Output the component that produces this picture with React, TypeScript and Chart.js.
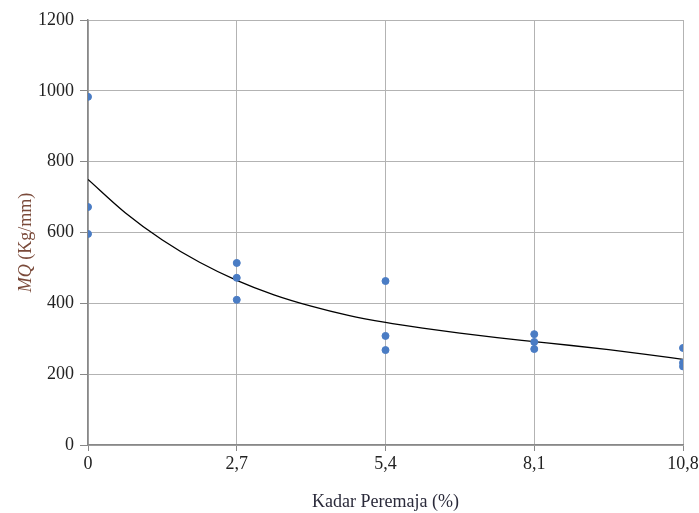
import React, { useEffect, useRef } from "react";
import { Chart, registerables } from "chart.js";

Chart.register(...registerables);

const xTicks = [0, 2.7, 5.4, 8.1, 10.8];
const yTicks = [0, 200, 400, 600, 800, 1000, 1200];

const pointX = [0, 0, 0, 2.7, 2.7, 2.7, 5.4, 5.4, 5.4, 8.1, 8.1, 8.1, 10.8, 10.8, 10.8];
const pointY = [983, 672, 596, 514, 472, 410, 463, 308, 268, 313, 291, 271, 274, 232, 222];

const trendX = [0, 0.675, 1.35, 2.025, 2.7, 3.375, 4.05, 4.725, 5.4, 6.075, 6.75, 7.425, 8.1, 8.775, 9.45, 10.125, 10.8];
const trendY = [750, 656, 579, 516, 465, 424, 392, 366, 346, 330, 316, 303, 292, 281, 269, 256, 242];

const FONT = "'Liberation Serif', 'Times New Roman', serif";

const yTitlePlugin = {
  id: "yTitle",
  afterDraw(chart: any) {
    const ctx = chart.ctx;
    const area = chart.chartArea;
    ctx.save();
    ctx.translate(26, (area.top + area.bottom) / 2 + 10);
    ctx.rotate(-Math.PI / 2);
    ctx.fillStyle = "#7a4a3a";
    ctx.textBaseline = "middle";
    const size = 18;
    ctx.font = `italic ${size}px ${FONT}`;
    const a = "MQ";
    const b = " (Kg/mm)";
    const wa = ctx.measureText(a).width;
    ctx.font = `${size}px ${FONT}`;
    const wb = ctx.measureText(b).width;
    const start = -(wa + wb) / 2;
    ctx.font = `italic ${size}px ${FONT}`;
    ctx.textAlign = "left";
    ctx.fillText(a, start, 0);
    ctx.font = `${size}px ${FONT}`;
    ctx.fillText(b, start + wa, 0);
    ctx.restore();
  },
};

export default function App() {
  const ref = useRef<HTMLCanvasElement>(null);
  useEffect(() => {
    document.body.style.margin = "0";
    const canvas = ref.current!;
    const chart = new Chart(canvas, {
      type: "scatter",
      data: {
        datasets: [
          {
            type: "line",
            data: trendX.map((x, i) => ({ x, y: trendY[i] })),
            borderColor: "#000000",
            borderWidth: 1.3,
            pointRadius: 0,
            cubicInterpolationMode: "monotone",
            fill: false,
            order: 2,
          } as any,
          {
            type: "scatter",
            data: pointX.map((x, i) => ({ x, y: pointY[i] })),
            backgroundColor: "#4a7cc4",
            borderColor: "#4a7cc4",
            pointRadius: 3.5,
            order: 1,
          },
        ],
      },
      options: {
        animation: false,
        responsive: false,
        maintainAspectRatio: false,
        layout: { padding: { top: 20, right: 16, left: 0, bottom: 0 } },
        plugins: { legend: { display: false }, tooltip: { enabled: false } },
        scales: {
          x: {
            type: "linear",
            min: 0,
            max: 10.8,
            afterBuildTicks: (s: any) => {
              s.ticks = xTicks.map((v) => ({ value: v }));
            },
            afterFit: (s: any) => {
              s.height = 68;
              s.paddingLeft = 0;
              s.paddingRight = 0;
            },
            ticks: {
              color: "#222",
              font: { family: FONT, size: 18 },
              padding: 2,
              maxRotation: 0,
              callback: (v: any) => String(v).replace(".", ","),
            },
            grid: { color: "#b3b3b3", lineWidth: 1, tickLength: 6, tickColor: "#888" },
            border: { color: "#888", width: 1.5 },
            title: {
              display: true,
              text: "Kadar Peremaja (%)",
              color: "#2a2a3a",
              font: { family: FONT, size: 18 },
              padding: { top: 12, bottom: 0 },
            },
          },
          y: {
            type: "linear",
            min: 0,
            max: 1200,
            afterBuildTicks: (s: any) => {
              s.ticks = yTicks.map((v) => ({ value: v }));
            },
            afterFit: (s: any) => {
              s.width = 88;
              s.paddingTop = 0;
              s.paddingBottom = 0;
            },
            ticks: {
              color: "#222",
              font: { family: FONT, size: 18 },
              padding: 6,
              callback: (v: any) => String(v),
            },
            grid: { color: "#b3b3b3", lineWidth: 1, tickLength: 8, tickColor: "#888" },
            border: { color: "#888", width: 1.5 },
          },
        },
      },
      plugins: [yTitlePlugin],
    });
    return () => chart.destroy();
  }, []);
  return <canvas ref={ref} width={699} height={513} style={{ display: "block" }} />;
}
